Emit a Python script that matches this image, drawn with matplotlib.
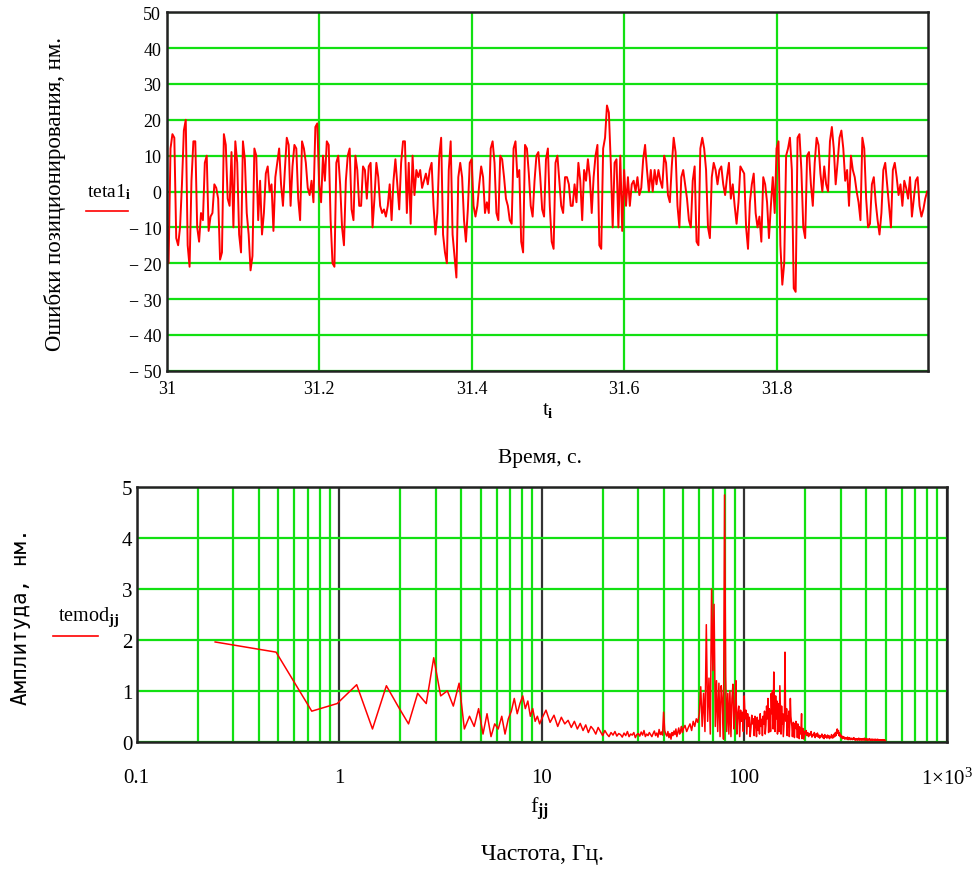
import numpy as np
import matplotlib
matplotlib.use("Agg")
import matplotlib.pyplot as plt
from matplotlib.lines import Line2D
from matplotlib.ticker import LogLocator, NullFormatter, FixedLocator

# ---------------- data: top panel (positioning error, nm) ----------------
t_start = 31.0
t_step = 0.0025
seg0 = [-8, -20, 12, 16, 15, -13, -15, -10, 2, 17, 20, -15, -21, 3, 14, 14, -10, -14, -6, -8,
        8, 10, -11, -7, -6, 2, 1, -2, -19, -17, 16, 13, -2, -4, 11, -10, 14, 8, -12, -17]
seg1 = [14, 9, -6, -12, -22, -18, 12, 10, -8, 3, -12, -6, 5, 7, 0, 2, -11, 4, 8, 12,
        2, -4, 6, 15, 13, -4, 7, 13, 12, -2, -8, 14, 12, 8, 1, -1, 3, -3, 18, 19]
seg2 = [2, -3, 10, 3, 14, 13, -8, -20, -21, 8, 10, 2, -10, -15, 3, 10, 12, -5, -8, 10,
        6, -4, -4, 7, 6, -2, 7, 8, -10, -2, 8, 4, -4, -6, -5, -7, -4, 2, -8, 3]
seg3 = [9, 2, -5, 8, 14, 14, -6, 8, -9, 10, -1, 6, 4, 6, 1, 3, 5, 2, 6, 8,
        -4, -12, -6, 10, 15, -12, -17, -20, 6, 14, -12, -18, -24, 4, 8, 4, -8, -14, -5, 8]
seg4 = [9, -4, -7, -4, 2, 7, 4, -6, -3, -6, 12, 14, 8, -6, -8, 10, 9, 4, -2, -4,
        -8, -9, 12, 14, 4, 6, -14, -17, 13, 12, 5, -4, -7, 3, 10, 11, 4, -5, -7, 9]
seg5 = [12, -4, -14, -16, 8, 10, 3, -4, -6, 4, 4, 2, -4, -4, 2, -3, 8, 3, -8, 6,
        3, 9, 4, -6, 4, 10, 13, -15, -16, 12, 15, 24, 22, 8, -10, 8, 9, -10, 10, -11]
seg6 = [6, -4, 4, -4, 2, 3, 0, 4, -1, 1, 9, 13, 6, 0, 6, 0, 6, 2, 6, 3,
        1, 10, 8, -1, -3, 7, 15, 11, -4, -10, 4, 6, 2, -2, -8, -10, 3, 7, -14, -15]
seg7 = [12, 15, 12, 6, -10, -13, 4, 8, 6, 2, 6, 7, 2, -1, 4, 8, -2, 2, -4, -9,
        -3, 7, 6, 5, -10, -16, -3, 2, 5, -6, -10, -7, -14, 4, 2, -3, -13, -4, 4, -6]
seg8 = [12, 14, -15, -26, -20, 10, 12, 15, 6, -27, -28, 15, 16, 6, -10, -13, 10, 11, 2, -4,
        8, 15, 13, 5, 0, 7, 2, 0, 14, 18, 12, 2, 8, 15, 17, 12, 3, 6, -4, 10]
seg9 = [6, 4, 0, -3, -8, 15, 12, -2, -10, -9, 2, 4, -3, -8, -12, -6, 6, 8, 2, -4,
        -10, 6, 8, 4, -1, 2, -4, 3, 1, -2, 4, -7, -2, 3, 4, -4, -7, -5, -2, 0]
teta1 = seg0 + seg1 + seg2 + seg3 + seg4 + seg5 + seg6 + seg7 + seg8 + seg9
t = t_start + t_step * np.arange(len(teta1))

top_xticks = [31, 31.2, 31.4, 31.6, 31.8]
top_xticklabels = ["31", "31.2", "31.4", "31.6", "31.8"]
top_yticks = [-50, -40, -30, -20, -10, 0, 10, 20, 30, 40, 50]
top_yticklabels = ["\u2212 50", "\u2212 40", "\u2212 30", "\u2212 20", "\u2212 10", "0",
                   "10", "20", "30", "40", "50"]

# ---------------- data: bottom panel (amplitude spectrum, nm) ----------------
f_low = [0.244, 0.488, 0.732, 0.977, 1.22, 1.46, 1.71, 1.95, 2.20, 2.44, 2.69, 2.93, 3.17,
         3.42, 3.66, 3.91, 4.15, 4.40, 4.64, 4.88, 5.13, 5.37, 5.62, 5.86, 6.10, 6.35, 6.59,
         6.84, 7.08, 7.32, 7.57, 7.81, 8.06, 8.30, 8.54, 8.79, 9.03, 9.28, 9.52, 9.77]
amp_low = [1.96, 1.76, 0.60, 0.75, 1.12, 0.25, 1.10, 0.70, 0.35, 0.95, 0.75, 1.65, 0.90,
           1.00, 0.70, 1.15, 0.25, 0.50, 0.30, 0.65, 0.15, 0.55, 0.10, 0.35, 0.25, 0.50, 0.15,
           0.45, 0.60, 0.85, 0.55, 0.75, 0.90, 0.65, 0.80, 0.50, 0.65, 0.40, 0.50, 0.35]
amp_10_50 = [0.45, 0.62, 0.38, 0.52, 0.30, 0.48, 0.35, 0.42, 0.28, 0.40,
             0.25, 0.36, 0.22, 0.33, 0.18, 0.30, 0.24, 0.15, 0.28, 0.20,
             0.12, 0.22, 0.15, 0.10, 0.18, 0.13, 0.20, 0.11, 0.16, 0.14,
             0.09, 0.17, 0.12, 0.20, 0.10, 0.15, 0.13, 0.18, 0.08, 0.14,
             0.16, 0.11, 0.19, 0.13, 0.22, 0.10, 0.15, 0.12, 0.18, 0.14,
             0.10, 0.16, 0.21, 0.12, 0.17, 0.09, 0.24, 0.14, 0.19, 0.13,
             0.58, 0.22, 0.15, 0.11, 0.20, 0.08, 0.16, 0.05, 0.18, 0.12,
             0.21, 0.14, 0.25, 0.10, 0.19, 0.27, 0.15, 0.22, 0.30, 0.18]
amp_50_200 = [0.25, 0.32, 0.20, 0.28, 0.35, 0.22, 0.40, 0.30, 0.45, 0.38,
              0.55, 1.08, 0.30, 0.95, 0.20, 2.30, 0.40, 1.25, 0.15, 3.00,
              1.40, 2.70, 0.30, 1.20, 0.20, 1.15, 0.10, 1.10, 0.80, 0.05,
              4.85, 1.30, 0.20, 0.95, 0.15, 1.00, 0.10, 0.85, 1.13, 0.25,
              0.60, 1.20, 0.15, 0.55, 0.70, 0.10, 0.62, 0.40, 0.58, 0.20,
              0.90, 0.45, 0.62, 0.15, 0.55, 0.30, 0.48, 0.10, 0.28, 0.52,
              0.35, 0.45, 0.12, 0.50, 0.38, 0.10, 0.48, 0.22, 0.42, 0.15,
              0.55, 0.30, 0.44, 0.12, 0.50, 0.35, 0.60, 0.15, 0.32, 0.70,
              0.45, 0.85, 0.18, 0.65, 0.50, 0.20, 0.95, 0.55, 1.00, 0.25,
              1.37, 0.70, 0.20, 0.90, 0.45, 0.80, 0.15, 0.42, 0.75, 0.20,
              1.10, 0.60, 0.15, 0.70, 0.35, 0.55, 0.10, 0.30, 0.50, 1.76,
              0.55, 0.40, 0.65, 0.12, 0.50, 0.30, 0.60, 0.10, 0.38, 0.85,
              0.50, 0.40, 0.30, 0.10, 0.25, 0.38, 0.30, 0.08, 0.35, 0.28,
              0.40, 0.25, 0.32, 0.08, 0.35, 0.18, 0.30, 0.06, 0.28, 0.15,
              0.25, 0.30, 0.55, 0.06, 0.18, 0.26, 0.15, 0.05, 0.12, 0.20]
amp_200_500 = [0.15, 0.22, 0.12, 0.18, 0.10, 0.16, 0.13, 0.20, 0.09, 0.14,
               0.12, 0.18, 0.08, 0.15, 0.11, 0.17, 0.09, 0.13, 0.07, 0.12,
               0.10, 0.15, 0.08, 0.12, 0.06, 0.14, 0.09, 0.11, 0.07, 0.13,
               0.08, 0.12, 0.06, 0.10, 0.09, 0.14, 0.07, 0.11, 0.08, 0.15,
               0.10, 0.18, 0.12, 0.20, 0.25, 0.16, 0.22, 0.12, 0.17, 0.10,
               0.13, 0.08, 0.11, 0.06, 0.10, 0.07, 0.09, 0.05, 0.08, 0.06,
               0.07, 0.05, 0.09, 0.04, 0.07, 0.06, 0.08, 0.04, 0.06, 0.05,
               0.07, 0.04, 0.06, 0.05, 0.08, 0.04, 0.06, 0.03, 0.05, 0.04,
               0.06, 0.03, 0.05, 0.04, 0.07, 0.03, 0.05, 0.04, 0.06, 0.03,
               0.05, 0.04, 0.06, 0.03, 0.05, 0.04, 0.07, 0.03, 0.04, 0.05,
               0.04, 0.06, 0.03, 0.05, 0.04, 0.03, 0.05, 0.04, 0.06, 0.03,
               0.04, 0.03, 0.05, 0.04, 0.03, 0.05, 0.04, 0.03, 0.04, 0.05,
               0.03, 0.04, 0.03, 0.05, 0.04, 0.03, 0.04, 0.03, 0.05, 0.04,
               0.03, 0.04, 0.03, 0.04, 0.02, 0.03, 0.04, 0.03, 0.02, 0.03,
               0.04, 0.03, 0.02, 0.03, 0.04, 0.02, 0.03, 0.02, 0.03, 0.02]
f_10_50 = 10.0 + 0.5 * np.arange(len(amp_10_50))
f_50_200 = 50.0 + 1.0 * np.arange(len(amp_50_200))
f_200_500 = 200.0 + 2.0 * np.arange(len(amp_200_500))
f_jj = np.concatenate([f_low, f_10_50, f_50_200, f_200_500])
temod = np.concatenate([amp_low, amp_10_50, amp_50_200, amp_200_500])

bot_xticks = [0.1, 1, 10, 100, 1000]
bot_xticklabels = ["0.1", "1", "10", "100", "1\u00d710$^{3}$"]
bot_yticks = [0, 1, 2, 3, 4, 5]
bot_yticklabels = ["0", "1", "2", "3", "4", "5"]

# ---------------- style ----------------
plt.rcParams['font.family'] = ['Liberation Serif', 'DejaVu Serif']
plt.rcParams['mathtext.fontset'] = 'custom'
plt.rcParams['mathtext.rm'] = 'Liberation Serif'
plt.rcParams['mathtext.it'] = 'Liberation Serif:italic'
plt.rcParams['mathtext.bf'] = 'Liberation Serif:bold'

GREEN = '#12e012'
W, H = 979, 870

fig = plt.figure(figsize=(W / 100, H / 100), dpi=100)

def fx(px):
    return px / W

def fy(py):
    return 1 - py / H

# top axes
ax1 = fig.add_axes([fx(166.7), fy(371.7), (928.3 - 166.7) / W, (371.7 - 13.3) / H])
ax1.plot(t, teta1, color='red', lw=1.4, zorder=3)
ax1.set_xlim(31, 31.999)
ax1.set_ylim(-50, 50)
ax1.set_xticks(top_xticks)
ax1.set_xticklabels(top_xticklabels)
ax1.set_yticks(top_yticks)
ax1.set_yticklabels(top_yticklabels)
ax1.grid(True, color=GREEN, lw=1.6, zorder=1)
ax1.set_axisbelow(True)
ax1.tick_params(length=0, labelsize=13)
ax1.tick_params(axis='x', pad=7)
ax1.tick_params(axis='y', pad=4)
for s in ax1.spines.values():
    s.set_linewidth(1.8)
    s.set_color('#222222')
    s.set_zorder(4)

# bottom axes
ax2 = fig.add_axes([fx(136.7), fy(742.7), (946.7 - 136.7) / W, (742.7 - 488.3) / H])
ax2.set_xscale('log')
ax2.plot(f_jj, temod, color='red', lw=1.1, zorder=3)
ax2.set_xlim(0.1, 1000)
ax2.set_ylim(0, 5)
ax2.xaxis.set_major_locator(FixedLocator(bot_xticks))
ax2.set_xticklabels(bot_xticklabels)
ax2.xaxis.set_minor_locator(LogLocator(base=10, subs=(2, 3, 4, 5, 6, 7, 8, 9), numticks=20))
ax2.xaxis.set_minor_formatter(NullFormatter())
ax2.set_yticks(bot_yticks)
ax2.set_yticklabels(bot_yticklabels)
ax2.grid(True, which='minor', axis='x', color=GREEN, lw=1.6, zorder=1)
ax2.grid(True, which='major', axis='x', color='#333333', lw=1.6, zorder=1)
ax2.grid(True, which='major', axis='y', color=GREEN, lw=1.6, zorder=1)
ax2.set_axisbelow(True)
ax2.tick_params(which='both', length=0, labelsize=15)
ax2.tick_params(axis='x', pad=19)
ax2.tick_params(axis='y', pad=3)
for s in ax2.spines.values():
    s.set_linewidth(1.8)
    s.set_color('#222222')
    s.set_zorder(4)

# labels and legends (Mathcad style)
fig.text(fx(55), fy(194), "Ошибки позиционирования, нм.", rotation=90,
         ha='center', va='center', fontsize=16.5)
fig.text(fx(109), fy(192), r"teta1$_\mathbf{i}$", ha='center', va='center', fontsize=14)
fig.add_artist(Line2D([fx(86), fx(128)], [fy(212), fy(212)], color='red', lw=1.2))
fig.text(fx(548), fy(411), r"t$_\mathbf{i}$", ha='center', va='center', fontsize=15)
fig.text(fx(540), fy(459), "Время, с.", ha='center', va='center', fontsize=15.5)

fig.text(fx(21), fy(617), "Амплитуда, нм.", rotation=90, ha='center', va='center',
         fontsize=15, family=['DejaVu Sans Mono'])
fig.text(fx(89), fy(617), r"temod$_\mathbf{jj}$", ha='center', va='center', fontsize=14.5)
fig.add_artist(Line2D([fx(53), fx(98)], [fy(637), fy(637)], color='red', lw=1.2))
fig.text(fx(540), fy(809), r"f$_\mathbf{jj}$", ha='center', va='center', fontsize=16)
fig.text(fx(542), fy(855), "Частота, Гц.", ha='center', va='center', fontsize=17)

fig.savefig("out.png", dpi=100)
